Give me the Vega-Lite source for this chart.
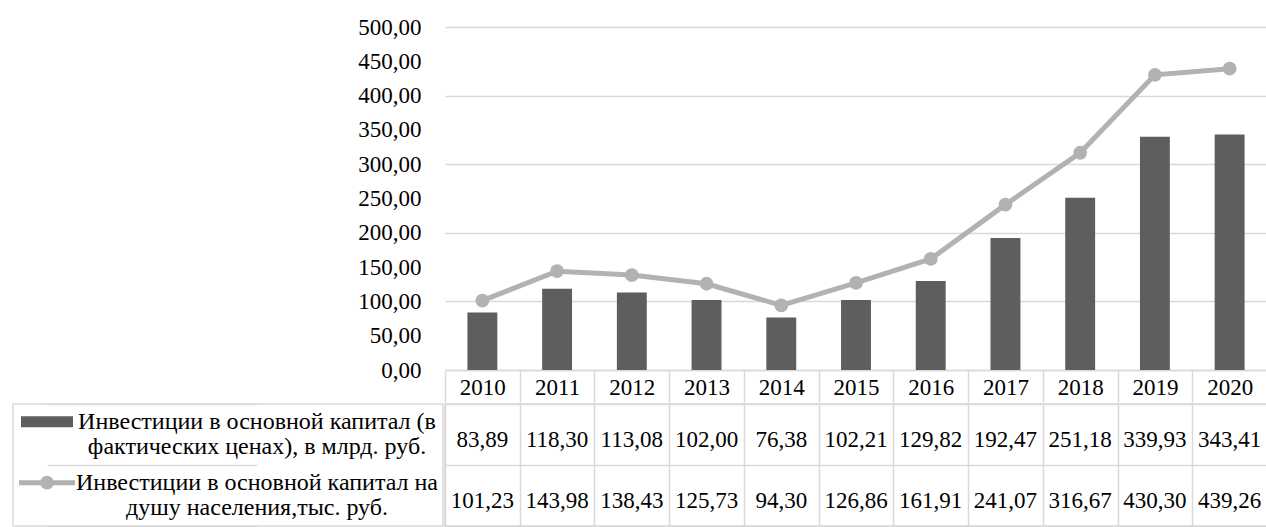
{
  "$schema": "https://vega.github.io/schema/vega-lite/v6.json",
  "padding": {"left": 0, "top": 16, "right": 0, "bottom": 0},
  "autosize": {"type": "pad"},
  "spacing": 0,
  "columns": 2,
  "align": "each",
  "bounds": "full",
  "resolve": {"scale": {"x": "independent", "y": "independent"}},
  "datasets": {
    "main": [
      {"year": "2010", "invest": 83.89, "percap": 101.23},
      {"year": "2011", "invest": 118.30, "percap": 143.98},
      {"year": "2012", "invest": 113.08, "percap": 138.43},
      {"year": "2013", "invest": 102.00, "percap": 125.73},
      {"year": "2014", "invest": 76.38, "percap": 94.30},
      {"year": "2015", "invest": 102.21, "percap": 126.86},
      {"year": "2016", "invest": 129.82, "percap": 161.91},
      {"year": "2017", "invest": 192.47, "percap": 241.07},
      {"year": "2018", "invest": 251.18, "percap": 316.67},
      {"year": "2019", "invest": 339.93, "percap": 430.30},
      {"year": "2020", "invest": 343.41, "percap": 439.26}
    ],
    "series": [
      {"key": "s1", "name": "Инвестиции в основной капитал (в\nфактических ценах), в млрд. руб."},
      {"key": "s2", "name": "Инвестиции в основной капитал на\nдушу населения,тыс. руб."}
    ]
  },
  "concat": [
    {
      "width": 430,
      "height": 343,
      "data": {"name": "main"},
      "view": {"stroke": null},
      "mark": {"type": "point", "opacity": 0},
      "encoding": {
        "y": {
          "field": "invest", "type": "quantitative", "title": null,
          "scale": {"domain": [0, 500], "nice": false},
          "axis": {
            "values": [0, 50, 100, 150, 200, 250, 300, 350, 400, 450, 500],
            "format": ".2f", "domain": false, "ticks": false, "grid": false,
            "labelOverlap": false, "offset": -408, "labelPadding": 0,
            "labelFont": "Liberation Serif", "labelFontSize": 23, "labelColor": "#000000"
          }
        }
      }
    },
    {
      "width": 822,
      "height": 343,
      "data": {"name": "main"},
      "view": {"stroke": null},
      "encoding": {
        "x": {
          "field": "year", "type": "ordinal", "title": null,
          "scale": {"paddingInner": 0, "paddingOuter": 0},
          "axis": {
            "labelAngle": 0, "tickBand": "extent", "tickSize": 32,
            "tickColor": "#d9d9d9", "tickWidth": 1.5,
            "domainColor": "#d9d9d9", "domainWidth": 1.5,
            "labelPadding": -26, "labelFont": "Liberation Serif", "labelFontSize": 23,
            "labelColor": "#000000", "minExtent": 33, "maxExtent": 33, "grid": false
          }
        }
      },
      "layer": [
        {
          "mark": {"type": "bar", "width": {"band": 0.4}, "color": "#5e5e5e"},
          "encoding": {
            "y": {
              "field": "invest", "type": "quantitative", "title": null,
              "scale": {"domain": [0, 500], "nice": false},
              "axis": {
                "values": [0, 50, 100, 150, 200, 250, 300, 350, 400, 450, 500],
                "labels": false, "domain": false, "ticks": false, "grid": true,
                "gridColor": "#d9d9d9", "gridWidth": 1.5,
                "minExtent": 0, "maxExtent": 0
              }
            }
          }
        },
        {
          "mark": {"type": "line", "color": "#b2b2b2", "strokeWidth": 5},
          "encoding": {"y": {"field": "percap", "type": "quantitative", "title": null}}
        },
        {
          "mark": {"type": "point", "filled": true, "size": 190, "color": "#b2b2b2", "opacity": 1},
          "encoding": {"y": {"field": "percap", "type": "quantitative", "title": null}}
        }
      ]
    },
    {
      "width": 430,
      "height": 122,
      "data": {"name": "series"},
      "view": {"stroke": "#d9d9d9", "strokeWidth": 1.5},
      "encoding": {
        "y": {
          "field": "key", "type": "nominal", "title": null, "bandPosition": 0.29,
          "scale": {"domain": ["s1", "s2"], "paddingInner": 0, "paddingOuter": 0},
          "axis": {
            "labels": false, "ticks": false, "domain": false, "grid": true,
            "tickBand": "extent", "gridColor": "#d9d9d9", "gridWidth": 1.5,
            "minExtent": 12, "maxExtent": 12
          }
        }
      },
      "layer": [
        {
          "transform": [{"filter": "datum.key === 's1'"}],
          "mark": {"type": "tick", "orient": "horizontal", "size": 52, "thickness": 11, "color": "#5e5e5e", "opacity": 1},
          "encoding": {
            "x": {"datum": "key", "type": "ordinal", "scale": {"type": "point", "domain": ["key", "label"], "range": [34, 244], "padding": 0}, "axis": null}
          }
        },
        {
          "transform": [{"filter": "datum.key === 's2'"}],
          "mark": {"type": "tick", "orient": "horizontal", "size": 56, "thickness": 5, "color": "#b2b2b2", "opacity": 1},
          "encoding": {
            "x": {"datum": "key", "type": "ordinal"}
          }
        },
        {
          "transform": [{"filter": "datum.key === 's2'"}],
          "mark": {"type": "point", "filled": true, "size": 190, "color": "#b2b2b2", "opacity": 1},
          "encoding": {
            "x": {"datum": "key", "type": "ordinal"}
          }
        },
        {
          "mark": {"type": "text", "font": "Liberation Serif", "fontSize": 24, "color": "#000000", "lineBreak": "\n", "lineHeight": 25, "align": "center", "baseline": "middle"},
          "encoding": {
            "x": {"datum": "label", "type": "ordinal"},
            "text": {"field": "name"}
          }
        }
      ]
    },
    {
      "width": 822,
      "height": 122,
      "data": {"name": "main"},
      "view": {"stroke": "#d9d9d9", "strokeWidth": 1.5},
      "encoding": {
        "x": {
          "field": "year", "type": "ordinal", "title": null,
          "scale": {"paddingInner": 0, "paddingOuter": 0},
          "axis": {
            "labels": false, "ticks": false, "domain": false, "grid": true,
            "tickBand": "extent", "gridColor": "#d9d9d9", "gridWidth": 1.5,
            "minExtent": 0, "maxExtent": 0
          }
        }
      },
      "layer": [
        {
          "mark": {"type": "text", "font": "Liberation Serif", "fontSize": 23, "color": "#000000", "align": "center", "baseline": "middle", "dy": 5},
          "encoding": {
            "y": {
              "datum": "s1", "type": "nominal", "title": null,
              "scale": {"domain": ["s1", "s2"], "paddingInner": 0, "paddingOuter": 0},
              "axis": {
                "labels": false, "ticks": false, "domain": false, "grid": true,
                "tickBand": "extent", "gridColor": "#d9d9d9", "gridWidth": 1.5,
                "minExtent": 0, "maxExtent": 0
              }
            },
            "text": {"field": "invest", "type": "quantitative", "format": ".2f"}
          }
        },
        {
          "mark": {"type": "text", "font": "Liberation Serif", "fontSize": 23, "color": "#000000", "align": "center", "baseline": "middle", "dy": 5},
          "encoding": {
            "y": {"datum": "s2", "type": "nominal"},
            "text": {"field": "percap", "type": "quantitative", "format": ".2f"}
          }
        }
      ]
    }
  ],
  "config": {
    "locale": {"number": {"decimal": ",", "thousands": "\u00a0", "grouping": [3], "currency": ["", ""]}},
    "font": "Liberation Serif"
  }
}
